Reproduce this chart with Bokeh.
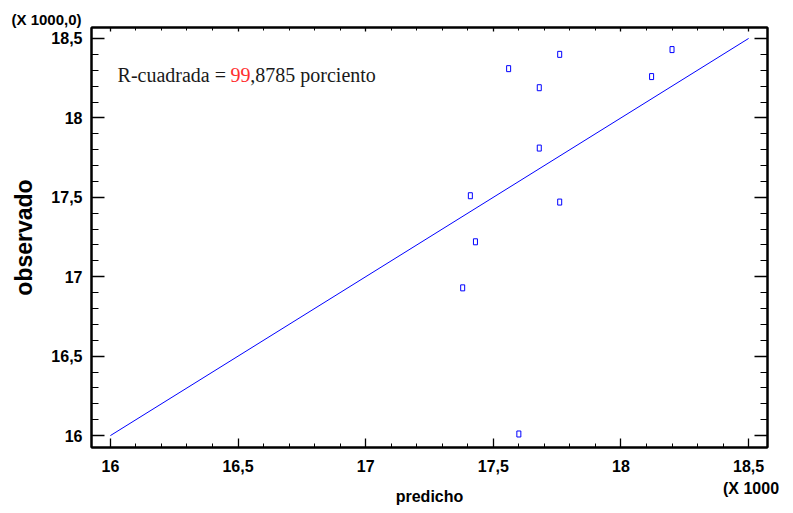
from bokeh.plotting import figure
from bokeh.models import Range1d, FixedTicker, LinearAxis, Label, CustomJSTickFormatter
from bokeh.embed import file_html
from bokeh.resources import INLINE

# data (values in thousands)
predicho = [17.38, 17.43, 17.41, 17.56, 17.68, 17.68, 17.76, 17.76, 17.60, 18.12, 18.20]
observado = [16.93, 17.22, 17.51, 18.31, 18.19, 17.81, 18.40, 17.47, 16.01, 18.26, 18.43]
fit_x = [16.0, 18.5]
fit_y = [16.0, 18.5]
tick_vals = [16.0, 16.5, 17.0, 17.5, 18.0, 18.5]
tick_labels = ["16", "16,5", "17", "17,5", "18", "18,5"]
minor_vals = [15.9 + 0.1 * i for i in range(0, 28)]
y_multiplier = "(X 1000,0)"
x_multiplier = "(X 1000"
x_multiplier_at = [18.56]
r2_prefix = "R-cuadrada = "
r2_int = "99"
r2_rest = ",8785 porciento"

SANS = "Liberation Sans"

p = figure(width=785, height=508, output_backend="svg", toolbar_location=None,
           x_range=Range1d(15.926, 18.574), y_range=Range1d(15.925, 18.569),
           min_border_left=91, min_border_top=27, min_border_right=18, min_border_bottom=61)
p.background_fill_color = "white"
p.border_fill_color = "white"
p.outline_line_color = "black"
p.outline_line_width = 2
p.xgrid.visible = False
p.ygrid.visible = False

# y multiplier note as the plot title, pushed left of the frame
p.title.text = y_multiplier
p.title.align = "left"
p.title.offset = -80
p.title.standoff = -1
p.title.vertical_align = "bottom"
p.title.text_font = SANS
p.title.text_font_style = "bold"
p.title.text_font_size = "15px"
p.title.text_color = "black"

fmt = CustomJSTickFormatter(args=dict(vals=tick_vals, labs=tick_labels), code="""
for (let i = 0; i < vals.length; i++) { if (Math.abs(vals[i] - tick) < 1e-6) return labs[i]; }
return '';
""")

def style_axis(ax, major, minor, labels=True):
    ax.ticker = FixedTicker(ticks=tick_vals, minor_ticks=minor_vals)
    ax.major_tick_in = major
    ax.major_tick_out = 0
    ax.minor_tick_in = minor
    ax.minor_tick_out = 0
    ax.major_tick_line_color = "black"
    ax.minor_tick_line_color = "black"
    ax.major_tick_line_width = 1.3
    ax.minor_tick_line_width = 1
    ax.axis_line_color = "black"
    ax.axis_line_width = 2
    if labels:
        ax.formatter = fmt
        ax.major_label_text_font = SANS
        ax.major_label_text_font_style = "bold"
        ax.major_label_text_font_size = "16px"
        ax.major_label_text_color = "black"
    else:
        ax.major_label_standoff = 0
        ax.major_label_text_font_size = "0px"
        ax.major_label_text_alpha = 0

style_axis(p.xaxis[0], 9, 4)
style_axis(p.yaxis[0], 13, 7)
p.xaxis[0].major_label_standoff = 12
p.yaxis[0].major_label_standoff = 9

p.yaxis[0].axis_label = "observado"
p.yaxis[0].axis_label_text_font = SANS
p.yaxis[0].axis_label_text_font_style = "bold"
p.yaxis[0].axis_label_text_font_size = "23px"
p.yaxis[0].axis_label_text_color = "black"
p.yaxis[0].axis_label_standoff = 11

# second bottom axis: carries the x multiplier note and the axis title
x_note_axis = LinearAxis(
    ticker=FixedTicker(ticks=x_multiplier_at, minor_ticks=[]),
    formatter=CustomJSTickFormatter(args=dict(t=x_multiplier), code="return t;"),
    axis_line_color=None, major_tick_line_color=None, minor_tick_line_color=None,
    major_label_standoff=-1, major_label_text_font=SANS, major_label_text_font_style="bold",
    major_label_text_font_size="16px", major_label_text_color="black",
    axis_label="predicho", axis_label_standoff=-12, axis_label_text_font=SANS,
    axis_label_text_font_style="bold", axis_label_text_font_size="16px",
    axis_label_text_color="black")
p.add_layout(x_note_axis, "below")

top_ax = LinearAxis()
style_axis(top_ax, 4, 3, labels=False)
p.add_layout(top_ax, "above")
right_ax = LinearAxis()
style_axis(right_ax, 13, 7, labels=False)
p.add_layout(right_ax, "right")

p.line(fit_x, fit_y, line_color="#0000ff", line_width=1)
p.rect(x=predicho, y=observado, width=4, height=6, width_units="screen", height_units="screen",
       fill_color=None, line_color="#0000ff", line_width=1)

ty = 18.271
p.add_layout(Label(x=16.028, y=ty, text=r2_prefix, text_align="left", text_baseline="alphabetic",
                   text_font="Liberation Serif", text_font_size="20px", text_color="#1a1a1a"))
p.add_layout(Label(x=16.470, y=ty, text=r2_int, text_align="left", text_baseline="alphabetic",
                   text_font="Liberation Serif", text_font_size="20px", text_color="#ff3030"))
p.add_layout(Label(x=16.548, y=ty, text=r2_rest, text_align="left", text_baseline="alphabetic",
                   text_font="Liberation Serif", text_font_size="20px", text_color="#1a1a1a"))

open("out.html", "w").write(file_html(p, INLINE))
